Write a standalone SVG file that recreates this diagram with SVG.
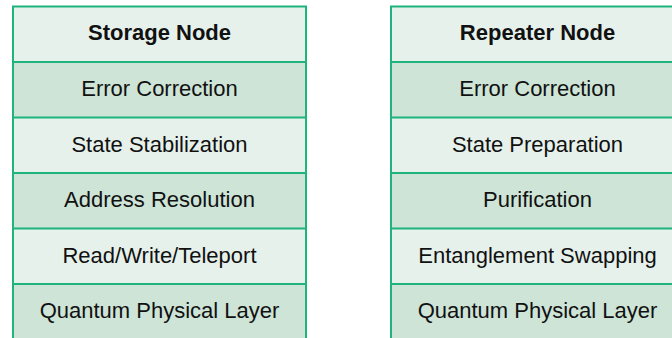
<svg xmlns="http://www.w3.org/2000/svg" width="672" height="338" viewBox="0 0 672 338">
<style>
.light{fill:#E7F1EC}
.dark{fill:#CDE4D7}
.frame{fill:none;stroke:#1FB37E;stroke-width:2}
.sep{stroke:#1FB37E;stroke-width:2}
text{font-family:"Liberation Sans",Arial,sans-serif;font-size:22px;fill:#111;text-anchor:middle}
.title{font-weight:bold}
</style>
<rect width="672" height="338" fill="#fff"/>
<g id="storage-node">
<rect class="light" x="13" y="6.5" width="293" height="55.5"/>
<rect class="dark" x="13" y="62" width="293" height="55.5"/>
<rect class="light" x="13" y="117.5" width="293" height="55.5"/>
<rect class="dark" x="13" y="173" width="293" height="55.5"/>
<rect class="light" x="13" y="228.5" width="293" height="55.5"/>
<rect class="dark" x="13" y="284" width="293" height="60"/>
<path class="frame" d="M13,345 V6.5 H306 V345"/>
<path class="sep" d="M13,62 H306 M13,117.5 H306 M13,173 H306 M13,228.5 H306 M13,284 H306"/>
<text class="title" x="159.5" y="40">Storage Node</text>
<text x="159.5" y="96">Error Correction</text>
<text x="159.5" y="151.5">State Stabilization</text>
<text x="159.5" y="207">Address Resolution</text>
<text x="159.5" y="262.5">Read/Write/Teleport</text>
<text x="159.5" y="318">Quantum Physical Layer</text>
</g>
<g id="repeater-node">
<rect class="light" x="391" y="6.5" width="293" height="55.5"/>
<rect class="dark" x="391" y="62" width="293" height="55.5"/>
<rect class="light" x="391" y="117.5" width="293" height="55.5"/>
<rect class="dark" x="391" y="173" width="293" height="55.5"/>
<rect class="light" x="391" y="228.5" width="293" height="55.5"/>
<rect class="dark" x="391" y="284" width="293" height="60"/>
<path class="frame" d="M391,345 V6.5 H684 V345"/>
<path class="sep" d="M391,62 H684 M391,117.5 H684 M391,173 H684 M391,228.5 H684 M391,284 H684"/>
<text class="title" x="537.5" y="40">Repeater Node</text>
<text x="537.5" y="96">Error Correction</text>
<text x="537.5" y="151.5">State Preparation</text>
<text x="537.5" y="207">Purification</text>
<text x="537.5" y="262.5">Entanglement Swapping</text>
<text x="537.5" y="318">Quantum Physical Layer</text>
</g>
<g id="connectors"></g>
</svg>
